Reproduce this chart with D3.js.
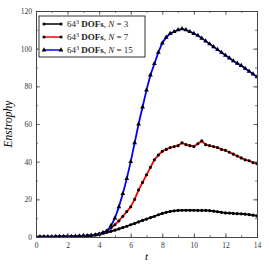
<!DOCTYPE html>
<html>
<head>
<meta charset="utf-8">
<script src="https://cdn.jsdelivr.net/npm/d3@7"></script>
<style>
  body { margin: 0; background: #fff; }
  svg text { font-family: "Liberation Serif", "DejaVu Serif", serif; }
</style>
</head>
<body>
<div id="chart"></div>
<script>
// time samples, every 0.25 from 0 to 14
const times = d3.range(0, 14.001, 0.25);

const enstrophyN3 = [0.2, 0.2, 0.2, 0.2, 0.2, 0.2, 0.3, 0.3, 0.3, 0.4, 0.4, 0.5, 0.6,
  0.7, 0.8, 1.1, 1.5, 2.0, 2.5, 3.0, 3.6, 4.3, 5.0, 5.7, 6.5, 7.2, 8.0, 8.8, 9.5, 10.3, 11.0, 11.8,
  12.5, 13.1, 13.6, 13.9, 14.1, 14.2, 14.2, 14.2, 14.2, 14.1, 14.1, 14.1, 14.0, 13.7, 13.4, 13.1,
  12.8, 12.7, 12.5, 12.4, 12.3, 12.1, 11.9, 11.6, 11.2];

const enstrophyN7 = [0.1, 0.1, 0.1, 0.1, 0.1, 0.2, 0.2, 0.2, 0.3, 0.3, 0.4, 0.5, 0.6,
  0.7, 0.9, 1.2, 1.6, 2.4, 3.4, 4.8, 6.5, 8.6, 11, 13.5, 16, 20, 25, 29, 33, 37, 41, 43.5,
  45.5, 46.5, 47.5, 48, 48.5, 50, 49, 48.5, 48, 49.5, 51, 49, 48.5, 48, 47.5, 46.5,
  46, 45, 44, 43, 42, 41, 40.5, 39.5, 39];

const enstrophyN15 = [0.1, 0.1, 0.1, 0.1, 0.1, 0.2, 0.2, 0.2, 0.3, 0.3, 0.4, 0.5, 0.6,
  0.7, 0.9, 1.1, 1.5, 2.2, 3.2, 6, 10, 16, 23, 31, 40, 50, 60, 69, 78, 86, 92, 98,
  103, 106, 108, 109, 110, 110.5, 110, 109, 108, 107, 105.5, 104, 102.5, 101, 99.5, 98,
  96.5, 95, 93.5, 92.2, 91, 89.5, 88, 86.5, 85];

const seriesNames = ["3", "7", "15"];
const seriesColors = ["#000000", "#ff0000", "#0000ff"];
const seriesMarkers = ["circle", "circle", "triangle"];
const seriesValues = [enstrophyN3, enstrophyN7, enstrophyN15];

const xTicks = [0, 2, 4, 6, 8, 10, 12, 14];
const yTicks = [0, 20, 40, 60, 80, 100, 120];

const W = 269, H = 269;
const margin = {top: 11, right: 12, bottom: 32, left: 36};
const width = W - margin.left - margin.right,
    height = H - margin.top - margin.bottom;

const svg = d3.select("#chart").append("svg")
    .attr("width", W)
    .attr("height", H)
    .append("g")
    .attr("transform", `translate(${margin.left},${margin.top})`);

const x = d3.scaleLinear().domain([0, 14]).range([0, width]);
const y = d3.scaleLinear().domain([0, 120]).range([height, 0]);

// clip so lines stay in the frame
svg.append("clipPath").attr("id", "clip")
    .append("rect").attr("width", width).attr("height", height);

function marker(kind) {
    return d3.symbol()
        .type(kind === "triangle" ? d3.symbolTriangle : d3.symbolCircle)
        .size(kind === "triangle" ? 10 : 8);
}

/* data lines and markers */
const content = svg.append("g").attr("clip-path", "url(#clip)");
const line = d3.line().x((d, i) => x(times[i])).y(d => y(d));

seriesValues.forEach((vals, s) => {
    content.append("path")
        .datum(vals)
        .attr("fill", "none")
        .attr("stroke", seriesColors[s])
        .attr("stroke-width", 1.8)
        .attr("d", line);
    content.append("g").selectAll("path")
        .data(vals)
        .join("path")
        .attr("transform", (d, i) => `translate(${x(times[i])},${y(d)})`)
        .attr("d", marker(seriesMarkers[s]))
        .attr("fill", "#000");
});

/* axes: ticks pointing inward on all four sides */
const axis = svg.append("g").attr("class", "axis");
const fontsize = 7.5;

const minorX = d3.range(0, 14.001, 1), minorY = d3.range(0, 120.001, 10);

axis.append("g")
    .attr("transform", `translate(0,${height})`)
    .call(d3.axisBottom(x).tickValues(minorX).tickSize(-2).tickFormat(""));
axis.append("g")
    .attr("transform", `translate(0,${height})`)
    .call(d3.axisBottom(x).tickValues(xTicks).tickSize(-4).tickPadding(6))
    .attr("font-size", fontsize);
axis.append("g")
    .call(d3.axisTop(x).tickValues(minorX).tickSize(-2).tickFormat(""));
axis.append("g")
    .call(d3.axisTop(x).tickValues(xTicks).tickSize(-4).tickFormat(""));

axis.append("g")
    .call(d3.axisLeft(y).tickValues(minorY).tickSize(-2).tickFormat(""));
axis.append("g")
    .call(d3.axisLeft(y).tickValues(yTicks).tickSize(-4).tickPadding(4))
    .attr("font-size", fontsize);
axis.append("g")
    .attr("transform", `translate(${width},0)`)
    .call(d3.axisRight(y).tickValues(minorY).tickSize(-2).tickFormat(""));
axis.append("g")
    .attr("transform", `translate(${width},0)`)
    .call(d3.axisRight(y).tickValues(yTicks).tickSize(-4).tickFormat(""));

axis.selectAll("text").attr("font-family", "Liberation Serif, serif").attr("fill", "#333");
axis.selectAll(".domain").attr("stroke", "#444");
axis.selectAll(".tick line").attr("stroke", "#444").attr("stroke-width", 0.7);

// axis labels
svg.append("text")
    .attr("x", width / 2)
    .attr("y", height + 23)
    .attr("text-anchor", "middle")
    .attr("font-size", 11)
    .attr("font-style", "italic")
    .text("t");
svg.append("text")
    .attr("transform", `translate(${-24}, ${height / 2}) rotate(-90)`)
    .attr("text-anchor", "middle")
    .attr("font-size", 11.5)
    .attr("font-style", "italic")
    .text("Enstrophy");

/* legend */
const legend = svg.append("g").attr("transform", "translate(3,5)");
legend.append("rect")
    .attr("width", 106)
    .attr("height", 41)
    .attr("fill", "#fff")
    .attr("stroke", "#000")
    .attr("stroke-width", 0.8);

seriesNames.forEach((n, s) => {
    const row = legend.append("g").attr("transform", `translate(0,${8 + s * 13})`);
    row.append("line")
        .attr("x1", 5).attr("x2", 22)
        .attr("stroke", seriesColors[s])
        .attr("stroke-width", 1.5);
    [5, 22].forEach(px => row.append("path")
        .attr("transform", `translate(${px},0)`)
        .attr("d", marker(seriesMarkers[s])).attr("fill", "#000"));
    const t = row.append("text")
        .attr("x", 28)
        .attr("y", 3)
        .attr("font-size", 9)
        .attr("fill", "#222");
    t.append("tspan").text("64");
    t.append("tspan").attr("dy", -3.5).attr("font-size", 6).text("3");
    t.append("tspan").attr("dy", 3.5).attr("font-weight", "bold").text(" DOFs");
    t.append("tspan").text(", ");
    t.append("tspan").attr("font-style", "italic").text("N");
    t.append("tspan").text(" = " + n);
});
</script>
</body>
</html>
